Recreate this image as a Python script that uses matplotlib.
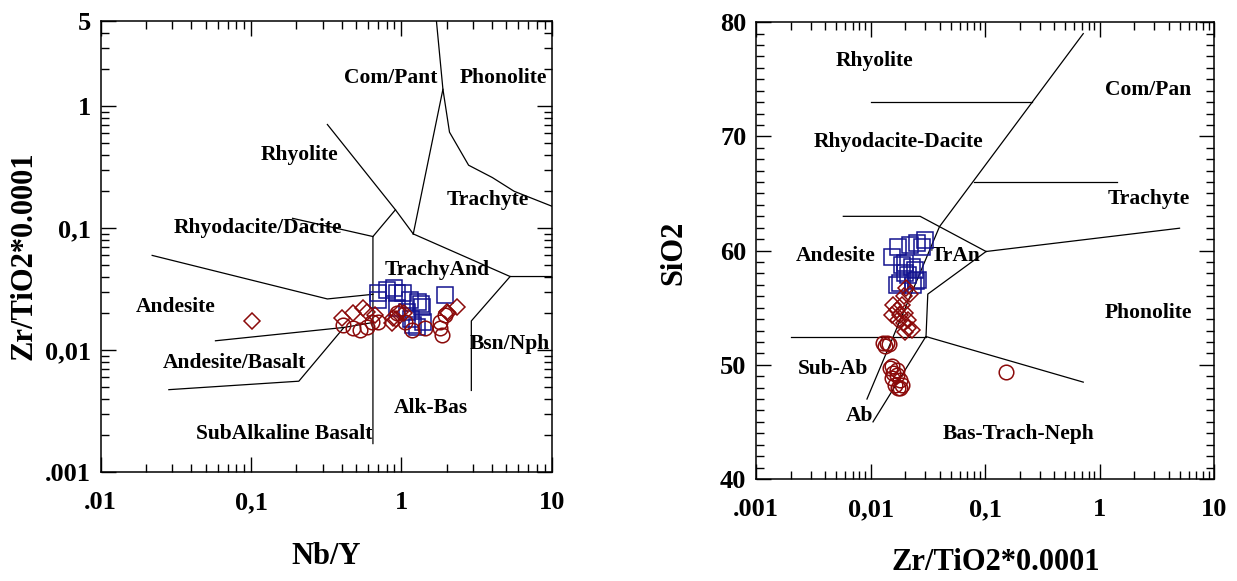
import numpy as np
import matplotlib
matplotlib.use("Agg")
import matplotlib.pyplot as plt
from matplotlib.ticker import LogLocator, NullFormatter, MultipleLocator

plt.rcParams['font.family'] = ['Liberation Serif', 'DejaVu Serif']
plt.rcParams['font.weight'] = 'bold'

RED = '#8b0a0a'
BLUE = '#14148f'

# ---------------- Left panel data (Nb/Y vs Zr/TiO2*0.0001) ----------------
left_diamond_x = [0.1015, 0.401, 0.479, 0.559, 0.589, 0.668, 0.863, 0.885, 0.98,
                  0.916, 1.035, 2.05, 2.34, 2.01]
left_diamond_y = [0.0172, 0.0182, 0.020, 0.022, 0.0206, 0.0194, 0.0166, 0.0182, 0.0206,
                  0.0179, 0.020, 0.020, 0.0226, 0.0206]
left_circle_x = [0.411, 0.479, 0.531, 0.589, 0.636, 0.703, 1.17, 1.44, 1.81, 1.81,
                 1.86, 1.95, 1.06, 0.931]
left_circle_y = [0.0160, 0.0151, 0.0146, 0.0155, 0.0171, 0.0171, 0.0146, 0.0151, 0.0171,
                 0.0151, 0.0133, 0.0194, 0.0171, 0.020]
left_square_x = [0.703, 0.80, 0.931, 1.03, 1.14, 1.30, 1.95, 1.37, 1.20, 1.40, 0.931,
                 1.09, 0.889, 0.694, 1.35, 1.16, 1.27]
left_square_y = [0.0292, 0.031, 0.0292, 0.0292, 0.0257, 0.0249, 0.0282, 0.0226, 0.016,
                 0.0171, 0.022, 0.0206, 0.0323, 0.0256, 0.0236, 0.0178, 0.0154]

# field boundaries (Winchester & Floyd 1977)
left_lines = [
    ([1.71, 1.89, 2.09, 2.80, 4.03, 5.62, 10.0], [5.0, 1.37, 0.61, 0.327, 0.259, 0.20, 0.151]),
    ([1.89, 1.20], [1.37, 0.0894]),
    ([0.322, 0.913, 1.20], [0.705, 0.141, 0.0894]),
    ([0.913, 0.647, 0.647], [0.141, 0.0851, 0.00171]),
    ([0.189, 0.647], [0.12, 0.0851]),
    ([1.20, 5.29, 10.0], [0.0894, 0.040, 0.040]),
    ([5.29, 2.92, 2.92], [0.040, 0.0173, 0.00466]),
    ([0.022, 0.322, 0.647], [0.0596, 0.0262, 0.0286]),
    ([0.058, 0.415, 0.647], [0.0119, 0.0153, 0.0168]),
    ([0.415, 0.208, 0.0284], [0.0153, 0.00555, 0.00473]),
]
left_labels = ["Com/Pant", "Phonolite", "Rhyolite", "Trachyte", "Rhyodacite/Dacite",
               "TrachyAnd", "Andesite", "Bsn/Nph", "Andesite/Basalt", "Alk-Bas",
               "SubAlkaline Basalt"]
left_label_x = [0.849, 4.74, 0.209, 3.75, 0.111, 1.73, 0.0316, 5.23, 0.077, 1.57, 0.165]
left_label_y = [1.69, 1.69, 0.394, 0.168, 0.0993, 0.045, 0.0224, 0.0111, 0.00783, 0.00333, 0.00204]

left_xticks = [0.01, 0.1, 1, 10]
left_xticklabels = [".01", "0,1", "1", "10"]
left_yticks = [0.001, 0.01, 0.1, 1, 5]
left_yticklabels = [".001", "0,01", "0,1", "1", "5"]

# ---------------- Right panel data (Zr/TiO2*0.0001 vs SiO2) ----------------
right_square_x = [0.0155, 0.0175, 0.0221, 0.0253, 0.020, 0.0229, 0.0245, 0.0214, 0.0262,
                  0.0169, 0.0236, 0.020, 0.0187, 0.030, 0.028, 0.0182, 0.025]
right_square_y = [59.41, 60.34, 60.49, 60.64, 58.89, 58.59, 58.30, 57.86, 57.43,
                  56.99, 56.99, 58.04, 58.74, 60.9, 60.3, 57.17, 57.33]
right_diamond_x = [0.0158, 0.0169, 0.0187, 0.020, 0.0175, 0.0194, 0.0214, 0.0214, 0.020,
                   0.0229, 0.0181, 0.0153, 0.0205, 0.0197, 0.0222]
right_diamond_y = [55.24, 54.80, 55.24, 54.51, 53.92, 53.63, 53.92, 53.20, 52.90,
                   53.05, 54.36, 54.36, 56.68, 56.03, 56.19]
right_circle_x = [0.0129, 0.0138, 0.0134, 0.0144, 0.0148, 0.0158, 0.0169, 0.0153, 0.0181,
                  0.0164, 0.0175, 0.0169, 0.0155, 0.0189, 0.018, 0.151]
right_circle_y = [51.88, 51.88, 51.65, 51.82, 49.69, 49.26, 49.55, 48.82, 48.67,
                  48.23, 47.94, 49.11, 49.88, 48.26, 47.93, 49.39]

right_lines = [
    ([0.72, 0.04, 0.0093], [79.0, 62.1, 47.0]),
    ([0.0101, 0.257], [73.04, 73.04]),
    ([0.08, 1.43], [65.97, 65.97]),
    ([0.00578, 0.0271, 0.102], [63.0, 63.0, 59.92]),
    ([0.102, 4.99], [59.92, 61.96]),
    ([0.102, 0.0316, 0.0305, 0.0105], [59.92, 56.19, 52.5, 45.0]),
    ([0.002, 0.0305], [52.47, 52.47]),
    ([0.0305, 0.72], [52.47, 48.48]),
]
right_labels = ["Rhyolite", "Com/Pan", "Rhyodacite-Dacite", "Trachyte", "Andesite",
                "TrAn", "Phonolite", "Sub-Ab", "Ab", "Bas-Trach-Neph"]
right_label_x = [0.0109, 2.65, 0.0175, 2.67, 0.00494, 0.0551, 2.65, 0.00467, 0.00806, 0.198]
right_label_y = [76.6, 74.07, 69.54, 64.52, 59.5, 59.5, 54.57, 49.62, 45.5, 43.98]

right_xticks = [0.001, 0.01, 0.1, 1, 10]
right_xticklabels = [".001", "0,01", "0,1", "1", "10"]
right_yticks = [40, 50, 60, 70, 80]

# ---------------- Figure ----------------
fig = plt.figure(figsize=(12.37, 5.81), dpi=100)
axL = fig.add_axes([0.0814, 0.1876, 0.3646, 0.7768])
axR = fig.add_axes([0.6112, 0.1756, 0.3703, 0.7862])

LBL = 15.5
TICK = 19
AXL = 22

def style(ax):
    for s in ax.spines.values():
        s.set_linewidth(1.1)
    ax.tick_params(which='both', direction='in', top=True, right=True, width=1.0)
    ax.tick_params(which='major', length=11, labelsize=TICK, pad=7)
    ax.tick_params(which='minor', length=5.5)
    for lab in ax.get_xticklabels() + ax.get_yticklabels():
        lab.set_fontweight('bold')

SQ, DM, CI = 11, 8.3, 10.5

# Left
axL.set_xscale('log')
axL.set_yscale('log')
axL.set_xlim(0.01, 10)
axL.set_ylim(0.001, 5)
for xs, ys in left_lines:
    axL.plot(xs, ys, color='black', lw=0.9, zorder=2)
for t, x, y in zip(left_labels, left_label_x, left_label_y):
    axL.text(x, y, t, fontsize=LBL, fontweight='bold', ha='center', va='center', zorder=1)
axL.plot(left_square_x, left_square_y, 's', ms=SQ, mfc='none', mec=BLUE, mew=1.1, zorder=3)
axL.plot(left_diamond_x, left_diamond_y, 'D', ms=DM, mfc='none', mec=RED, mew=1.1, zorder=4)
axL.plot(left_circle_x, left_circle_y, 'o', ms=CI, mfc='none', mec=RED, mew=1.1, zorder=4)
axL.set_xticks(left_xticks, left_xticklabels)
axL.set_yticks(left_yticks, left_yticklabels)
axL.xaxis.set_minor_locator(LogLocator(base=10, subs=np.arange(2, 10)))
axL.yaxis.set_minor_locator(LogLocator(base=10, subs=np.arange(2, 10)))
axL.xaxis.set_minor_formatter(NullFormatter())
axL.yaxis.set_minor_formatter(NullFormatter())
style(axL)
axL.tick_params(axis='x', which='major', pad=14)

# Right
axR.set_xscale('log')
axR.set_xlim(0.001, 10)
axR.set_ylim(40, 80)
for xs, ys in right_lines:
    axR.plot(xs, ys, color='black', lw=0.9, zorder=2)
for t, x, y in zip(right_labels, right_label_x, right_label_y):
    axR.text(x, y, t, fontsize=LBL, fontweight='bold', ha='center', va='center', zorder=1)
axR.plot(right_square_x, right_square_y, 's', ms=SQ, mfc='none', mec=BLUE, mew=1.1, zorder=3)
axR.plot(right_diamond_x, right_diamond_y, 'D', ms=DM, mfc='none', mec=RED, mew=1.1, zorder=4)
axR.plot(right_circle_x, right_circle_y, 'o', ms=CI, mfc='none', mec=RED, mew=1.1, zorder=4)
axR.set_xticks(right_xticks, right_xticklabels)
axR.set_yticks(right_yticks)
axR.xaxis.set_minor_locator(LogLocator(base=10, subs=np.arange(2, 10)))
axR.xaxis.set_minor_formatter(NullFormatter())
axR.yaxis.set_minor_locator(MultipleLocator(1))
style(axR)
axR.tick_params(axis='x', which='major', pad=14)

# Axis titles placed at the reference positions
fig.text(326 / 1237, 1 - 556 / 581, "Nb/Y", fontsize=AXL, fontweight='bold',
         ha='center', va='center')
fig.text(24 / 1237, 1 - 256 / 581, "Zr/TiO2*0.0001", fontsize=AXL, fontweight='bold',
         ha='center', va='center', rotation=90)
fig.text(996 / 1237, 1 - 562 / 581, "Zr/TiO2*0.0001", fontsize=AXL, fontweight='bold',
         ha='center', va='center')
fig.text(674 / 1237, 1 - 253 / 581, "SiO2", fontsize=AXL, fontweight='bold',
         ha='center', va='center', rotation=90)

fig.savefig("out.png", dpi=100)
